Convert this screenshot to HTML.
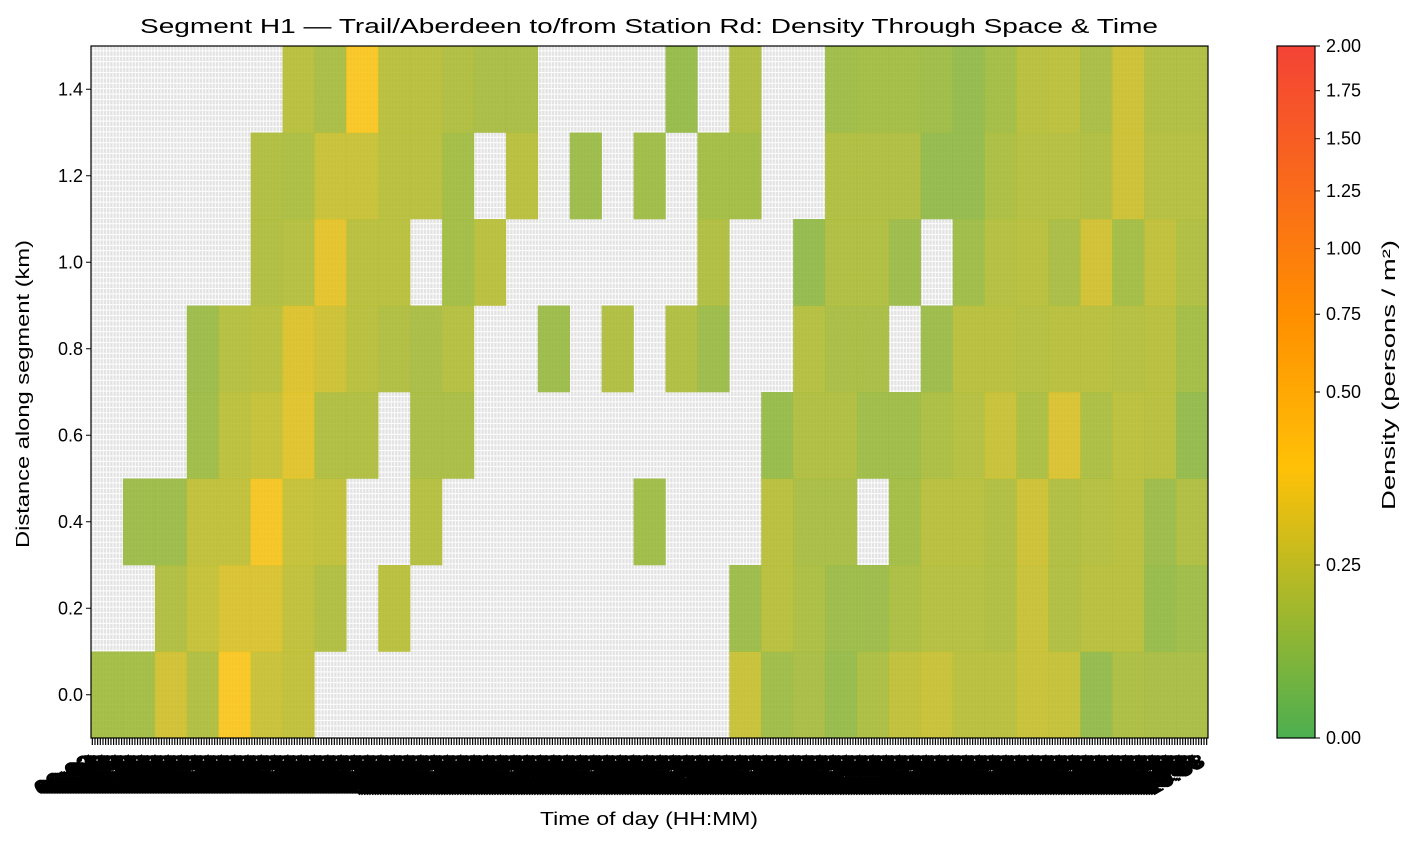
<!DOCTYPE html>
<html><head><meta charset="utf-8">
<style>
html,body{margin:0;padding:0;background:#fff;}
svg{display:block;font-family:"Liberation Sans","DejaVu Sans",sans-serif;}
</style></head>
<body>
<svg id="chart" width="1415" height="844" viewBox="0 0 1415 844" xmlns="http://www.w3.org/2000/svg">
<defs>
<pattern id="bggrid" x="91" y="46" width="3.2" height="5.4" patternUnits="userSpaceOnUse">
<rect x="0" y="0" width="3.2" height="5.4" fill="#ffffff"/>
<rect x="0" y="0" width="2.4" height="4.4" fill="#e3e3e3"/>
</pattern>
<linearGradient id="cbgrad" x1="0" y1="1" x2="0" y2="0">
<stop offset="0" stop-color="#4caf50"/>
<stop offset="0.39" stop-color="#ffc107"/>
<stop offset="0.61" stop-color="#ff8f00"/>
<stop offset="1" stop-color="#f44336"/>
</linearGradient>
</defs>
<text x="649" y="33" text-anchor="middle" font-size="20" textLength="1018" lengthAdjust="spacingAndGlyphs" fill="#000">Segment H1 — Trail/Aberdeen to/from Station Rd: Density Through Space &amp; Time</text>
<rect x="91" y="46" width="1117" height="692" fill="url(#bggrid)"/>
<g id="cells"></g>
<rect x="91" y="46" width="1117" height="692" fill="none" stroke="#000" stroke-width="1.2"/>
<g id="yaxis"></g>
<g id="xaxis"></g>
<text x="29" y="394" text-anchor="middle" font-size="18" textLength="308" lengthAdjust="spacingAndGlyphs" transform="rotate(-90 29 394)">Distance along segment (km)</text>
<text x="649" y="825" text-anchor="middle" font-size="18" textLength="218" lengthAdjust="spacingAndGlyphs">Time of day (HH:MM)</text>
<rect x="1277" y="46" width="38" height="692" fill="url(#cbgrad)" stroke="#000" stroke-width="1.2"/>
<g id="cbaxis"></g>
<text x="1395" y="375" text-anchor="middle" font-size="18" textLength="270" lengthAdjust="spacingAndGlyphs" transform="rotate(-90 1395 375)">Density (persons / m²)</text>
</svg>
<script>
// rows from 0.0 km (bottom) to 1.4 km (top); null = no data
const distances = [0.0, 0.2, 0.4, 0.6, 0.8, 1.0, 1.2, 1.4];
const row00 = [0.17,0.17,0.28,0.2,0.38,0.26,0.24,null,null,null,null,null,null,null,null,null,null,null,null,null,0.26,0.16,0.18,0.14,0.19,0.24,0.26,0.22,0.22,0.26,0.25,0.13,0.19,0.18,0.18];
const row02 = [null,null,0.2,0.25,0.3,0.3,0.24,0.2,null,0.22,null,null,null,null,null,null,null,null,null,null,0.15,0.22,0.19,0.15,0.15,0.19,0.21,0.21,0.2,0.26,0.2,0.22,0.22,0.14,0.16];
const row04 = [null,0.15,0.15,0.24,0.24,0.37,0.25,0.24,null,null,0.21,null,null,null,null,null,null,0.16,null,null,null,0.22,0.18,0.18,null,0.17,0.22,0.22,0.2,0.27,0.2,0.21,0.22,0.15,0.2];
const row06 = [null,null,null,0.16,0.23,0.25,0.32,0.2,0.2,null,0.18,0.18,null,null,null,null,null,null,null,null,null,0.14,0.2,0.2,0.16,0.16,0.19,0.21,0.26,0.19,0.3,0.19,0.23,0.22,0.13];
const row08 = [null,null,null,0.15,0.21,0.22,0.31,0.27,0.22,0.2,0.18,0.21,null,null,0.15,null,0.2,null,0.2,0.15,null,null,0.21,0.18,0.18,null,0.15,0.22,0.22,0.21,0.22,0.22,0.21,0.22,0.17];
const row10 = [null,null,null,null,null,0.2,0.21,0.33,0.22,0.22,null,0.17,0.22,null,null,null,null,null,null,0.2,null,null,0.13,0.2,0.2,0.15,null,0.16,0.21,0.22,0.18,0.28,0.17,0.24,0.2];
const row12 = [null,null,null,null,null,0.2,0.19,0.26,0.26,0.22,0.22,0.17,null,0.22,null,0.15,null,0.16,null,0.17,0.17,null,null,0.2,0.2,0.2,0.13,0.13,0.19,0.21,0.21,0.2,0.27,0.21,0.21];
const row14 = [null,null,null,null,null,null,0.22,0.18,0.38,0.22,0.22,0.2,0.18,0.18,null,null,null,null,0.14,null,0.2,null,null,0.16,0.17,0.17,0.16,0.13,0.17,0.22,0.23,0.18,0.27,0.2,0.2];
const densityRows = [row00,row02,row04,row06,row08,row10,row12,row14];
const yTicks = [0.0, 0.2, 0.4, 0.6, 0.8, 1.0, 1.2, 1.4];
const yTickLabels = ["0.0","0.2","0.4","0.6","0.8","1.0","1.2","1.4"];
const cbTicks = [0.0, 0.25, 0.5, 0.75, 1.0, 1.25, 1.5, 1.75, 2.0];
const cbTickLabels = ["0.00","0.25","0.50","0.75","1.00","1.25","1.50","1.75","2.00"];

const NS = "http://www.w3.org/2000/svg";
const PX0 = 91, PX1 = 1208, PY0 = 46, PY1 = 738;
const nCols = row00.length;
const colW = (PX1 - PX0) / nCols;
function xCol(i){ return PX0 + i * colW; }
function yKm(v){ return PY1 - (v + 0.1) / 1.6 * (PY1 - PY0); }
function normFrac(v){ return v <= 0.5 ? v : Math.sqrt(v / 2); }
function cbY(v){ return PY1 - normFrac(v) * (PY1 - PY0); }
const stops = [[0,[76,175,80]],[0.39,[255,193,7]],[0.61,[255,143,0]],[1,[244,67,54]]];
function cmap(v){
  const f = Math.max(0, Math.min(1, normFrac(v)));
  for (let i = 0; i < stops.length - 1; i++){
    const a = stops[i], b = stops[i+1];
    if (f <= b[0]){
      const t = (f - a[0]) / (b[0] - a[0]);
      const c = a[1].map((x, k) => Math.round(x + (b[1][k] - x) * t));
      return "rgb(" + c.join(",") + ")";
    }
  }
  return "rgb(244,67,54)";
}
function mk(tag, attrs, parent){
  const e = document.createElementNS(NS, tag);
  for (const k in attrs) e.setAttribute(k, attrs[k]);
  parent.appendChild(e);
  return e;
}
const cells = document.getElementById("cells");
densityRows.forEach((row, r) => {
  const d = distances[r];
  const yTop = yKm(d + 0.1), yBot = yKm(d - 0.1);
  row.forEach((v, c) => {
    if (v === null) return;
    const el = mk("rect", {x: xCol(c).toFixed(2), y: yTop.toFixed(2), width: (colW + 0.3).toFixed(2), height: (yBot - yTop + 0.3).toFixed(2), fill: cmap(v), "fill-opacity": "0.86"}, cells);
    
    
  });
});
const yaxis = document.getElementById("yaxis");
yTicks.forEach((v, i) => {
  const y = yKm(v);
  const t = mk("line", {x1: PX0 - 5, x2: PX0, y1: y, y2: y, stroke: "#000", "stroke-width": 1}, yaxis);
  
  
  const tx = mk("text", {x: PX0 - 8, y: y + 6, "text-anchor": "end", "font-size": 18}, yaxis);
  tx.textContent = yTickLabels[i];
  
  
});
const xaxis = document.getElementById("xaxis");
const nTicks = 420;
for (let i = 0; i < nTicks; i++){
  const x = PX0 + (i + 0.5) * (PX1 - PX0) / nTicks;
  const t = mk("line", {x1: x, x2: x, y1: PY1, y2: PY1 + 7, stroke: "#000", "stroke-width": 1.2}, xaxis);
  
  
  const mins = 360 + i * 2;
  const lbl = String(Math.floor(mins / 60) % 24).padStart(2, "0") + ":" + String(mins % 60).padStart(2, "0");
  const ay = PY1 + 27;
  const tx = mk("text", {x: x, y: ay, "text-anchor": "end", "font-size": 20, "font-weight": "bold", textLength: 62, lengthAdjust: "spacingAndGlyphs", transform: "rotate(-30 " + x.toFixed(2) + " " + ay + ")"}, xaxis);
  tx.textContent = lbl;
  
  
}
const cbaxis = document.getElementById("cbaxis");
cbTicks.forEach((v, i) => {
  const y = cbY(v);
  const t = mk("line", {x1: 1315, x2: 1320, y1: y, y2: y, stroke: "#000", "stroke-width": 1}, cbaxis);
  
  
  const tx = mk("text", {x: 1326, y: y + 6, "font-size": 18}, cbaxis);
  tx.textContent = cbTickLabels[i];
  
  
});
</script>
</body></html>
